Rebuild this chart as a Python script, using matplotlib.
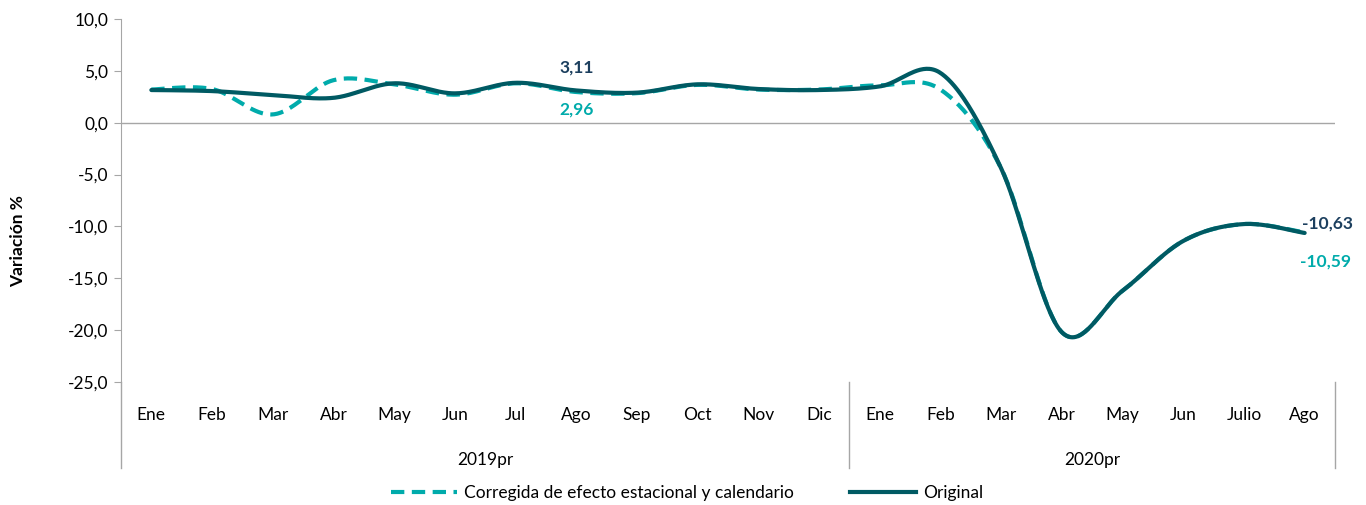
import numpy as np
import matplotlib
matplotlib.use("Agg")
import matplotlib.pyplot as plt
from matplotlib.lines import Line2D
import matplotlib.transforms as mtransforms

plt.rcParams['font.family'] = ['Lato', 'DejaVu Sans']

# datos
meses = ["Ene", "Feb", "Mar", "Abr", "May", "Jun", "Jul", "Ago", "Sep", "Oct", "Nov", "Dic",
         "Ene", "Feb", "Mar", "Abr", "May", "Jun", "Julio", "Ago"]
anios = ["2019pr", "2020pr"]
n_2019 = 12

original = [3.15, 3.05, 2.67, 2.4, 3.8, 2.83, 3.85, 3.11, 2.9, 3.7, 3.25, 3.15,
            3.5, 4.8, -4.4, -20.2, -16.2, -11.4, -9.77, -10.63]
corregida = [3.2, 3.25, 0.8, 4.1, 3.7, 2.7, 3.8, 2.96, 2.85, 3.65, 3.2, 3.2,
             3.6, 3.2, -4.4, -20.2, -16.2, -11.4, -9.77, -10.59]

c_orig = "#005a63"
c_corr = "#00abab"
c_lab_orig = "#1c3f5e"
c_gris = "#a6a6a6"


def suavizar(y, n=40):
    # curva tipo Excel (Catmull-Rom como bezier)
    x = np.arange(len(y), dtype=float)
    y = np.asarray(y, dtype=float)
    px = np.concatenate([[x[0]], x, [x[-1]]])
    py = np.concatenate([[y[0]], y, [y[-1]]])
    xs, ys = [], []
    t = np.linspace(0, 1, n)
    for i in range(1, len(px) - 2):
        p0 = np.array([px[i], py[i]])
        p3 = np.array([px[i + 1], py[i + 1]])
        c1 = p0 + (np.array([px[i + 1], py[i + 1]]) - np.array([px[i - 1], py[i - 1]])) / 6
        c2 = p3 - (np.array([px[i + 2], py[i + 2]]) - np.array([px[i], py[i]])) / 6
        b = ((1 - t) ** 3)[:, None] * p0 + (3 * (1 - t) ** 2 * t)[:, None] * c1 \
            + (3 * (1 - t) * t ** 2)[:, None] * c2 + (t ** 3)[:, None] * p3
        xs.extend(b[:, 0])
        ys.extend(b[:, 1])
    return np.array(xs), np.array(ys)


fig = plt.figure(figsize=(13.66, 5.05), dpi=100)
ax = fig.add_axes([121 / 1366, 1 - 382 / 505, (1335 - 121) / 1366, 363 / 505])

xs, ys = suavizar(corregida)
ax.plot(xs, ys, color=c_corr, lw=3, dashes=(3.2, 1.8), solid_capstyle='butt', zorder=3)
xs, ys = suavizar(original)
ax.plot(xs, ys, color=c_orig, lw=3, solid_capstyle='round', zorder=4)

ax.set_xlim(-0.5, len(meses) - 0.5)
ax.set_ylim(-25, 10)
ax.set_yticks(np.arange(-25, 11, 5))
ax.set_yticklabels([f"{v:.1f}".replace(".", ",") for v in np.arange(-25, 11, 5)], fontsize=12.5)
ax.tick_params(axis='y', length=5, color=c_gris, pad=4)
ax.set_xticks([])
for s in ["top", "right", "bottom"]:
    ax.spines[s].set_visible(False)
ax.spines["left"].set_color(c_gris)
ax.axhline(0, color=c_gris, lw=1, zorder=1)

trans = mtransforms.blended_transform_factory(ax.transData, ax.transAxes)
for i, m in enumerate(meses):
    ax.text(i, -0.091, m, transform=trans, ha='center', va='center', fontsize=12.5)
ax.text((n_2019 - 1) / 2, -0.215, anios[0], transform=trans, ha='center', va='center', fontsize=12.5)
ax.text((n_2019 + len(meses) - 1) / 2, -0.215, anios[1], transform=trans, ha='center', va='center', fontsize=12.5)
for xv in [-0.5, n_2019 - 0.5, len(meses) - 0.5]:
    ax.plot([xv, xv], [0, -0.237], transform=trans, color=c_gris, lw=1, clip_on=False)

# etiquetas de datos
ax.text(7, original[7] + 2.25, "3,11", color=c_lab_orig, fontsize=12.5, fontweight='bold', ha='center', va='center')
ax.text(7, corregida[7] - 1.65, "2,96", color=c_corr, fontsize=12.5, fontweight='bold', ha='center', va='center')
ax.text(18.95, original[19] + 0.95, "-10,63", color=c_lab_orig, fontsize=12.5, fontweight='bold', ha='left', va='center')
ax.text(18.92, corregida[19] - 2.75, "-10,59", color=c_corr, fontsize=12.5, fontweight='bold', ha='left', va='center')

fig.text(18 / 1366, 1 - 241 / 505, "Variación %", rotation=90, fontsize=12.5, fontweight='bold',
         ha='center', va='center')

h = [Line2D([], [], color=c_corr, lw=3, dashes=(3.2, 1.8)),
     Line2D([], [], color=c_orig, lw=3)]
fig.legend(h, ["Corregida de efecto estacional y calendario", "Original"], loc='center',
           bbox_to_anchor=(0.503, 1 - 493 / 505), ncol=2, frameon=False, fontsize=12.5,
           handlelength=3.8, handletextpad=0.45, columnspacing=3.2)

fig.savefig("out.png", dpi=100)
